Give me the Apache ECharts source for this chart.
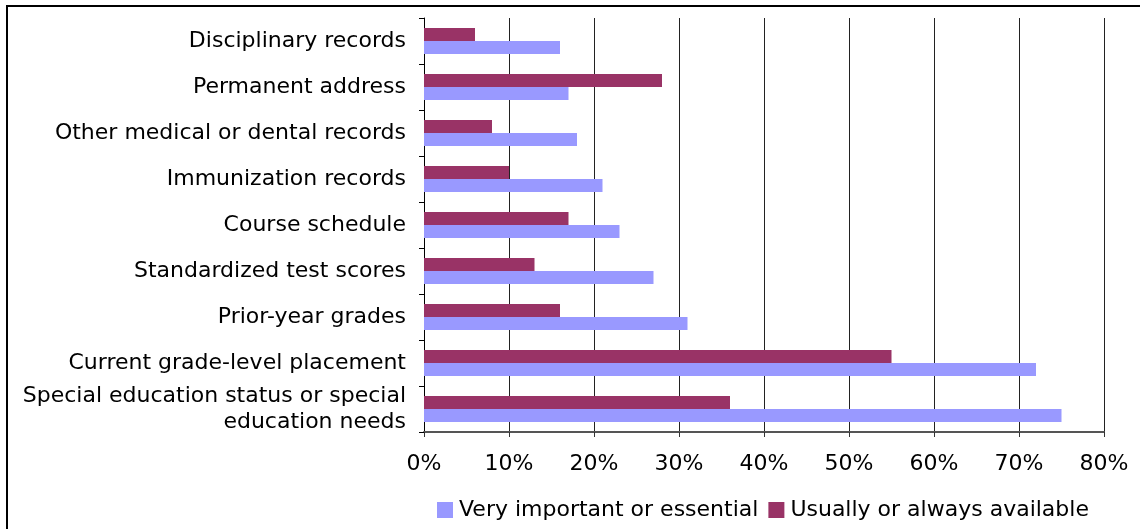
<!DOCTYPE html>
<html>
<head>
<meta charset="utf-8">
<script src="https://cdn.jsdelivr.net/npm/echarts@6/dist/echarts.min.js"></script>
<style>
  html, body { margin: 0; padding: 0; background: #fff; }
  #chart { width: 1140px; height: 529px; }
</style>
</head>
<body>
<div id="chart"></div>
<script>
// Record types, listed bottom to top on the category axis
const categories = [
  'Special education status or special\neducation needs',
  'Current grade-level placement',
  'Prior-year grades',
  'Standardized test scores',
  'Course schedule',
  'Immunization records',
  'Other medical or dental records',
  'Permanent address',
  'Disciplinary records'
];

// Percent of respondents
const veryImportant = [75, 72, 31, 27, 23, 21, 18, 17, 16];
const usuallyAvailable = [36, 55, 16, 13, 17, 10, 8, 28, 6];

const seriesNames = ['Very important or essential', 'Usually or always available'];

const FONT = 'DejaVu Sans';
const chart = echarts.init(document.getElementById('chart'), null, { renderer: 'canvas' });

chart.setOption({
  animation: false,
  textStyle: { fontFamily: FONT },
  graphic: [{
    type: 'rect',
    shape: { x: 7, y: 6, width: 1300, height: 700 },
    style: { fill: 'none', stroke: '#000', lineWidth: 2 },
    silent: true
  }],
  grid: { left: 424, right: 36, top: 18, bottom: 97, containLabel: false },
  legend: {
    data: seriesNames,
    left: 432,
    top: 494,
    itemWidth: 16,
    itemHeight: 16,
    itemGap: 10,
    icon: 'rect',
    textStyle: { fontFamily: FONT, fontSize: 22, color: '#000', padding: [0, 0, 0, 1] }
  },
  xAxis: {
    type: 'value',
    min: 0,
    max: 80,
    interval: 10,
    axisLine: { show: true, lineStyle: { color: '#555', width: 2 } },
    axisTick: { show: true, length: 5, lineStyle: { color: '#333' } },
    axisLabel: {
      formatter: '{value}%',
      fontFamily: FONT,
      fontSize: 22,
      color: '#000',
      margin: 21
    },
    splitLine: { show: true, lineStyle: { color: '#222', width: 1 } }
  },
  yAxis: {
    type: 'category',
    data: categories,
    axisLine: { show: true, lineStyle: { color: '#000', width: 1 } },
    axisTick: { show: true, length: 5, lineStyle: { color: '#000' } },
    axisLabel: {
      fontFamily: FONT,
      fontSize: 22,
      color: '#000',
      margin: 18,
      lineHeight: 26,
      align: 'right'
    },
    splitLine: { show: false }
  },
  // The available series is listed first so it sits above the importance bar in each row
  series: [
    {
      name: seriesNames[1],
      type: 'bar',
      data: usuallyAvailable,
      barWidth: 13,
      barGap: '0%',
      itemStyle: { color: '#993366' }
    },
    {
      name: seriesNames[0],
      type: 'bar',
      data: veryImportant,
      barWidth: 13,
      barGap: '0%',
      itemStyle: { color: '#9999FF' }
    }
  ]
});
</script>
</body>
</html>
